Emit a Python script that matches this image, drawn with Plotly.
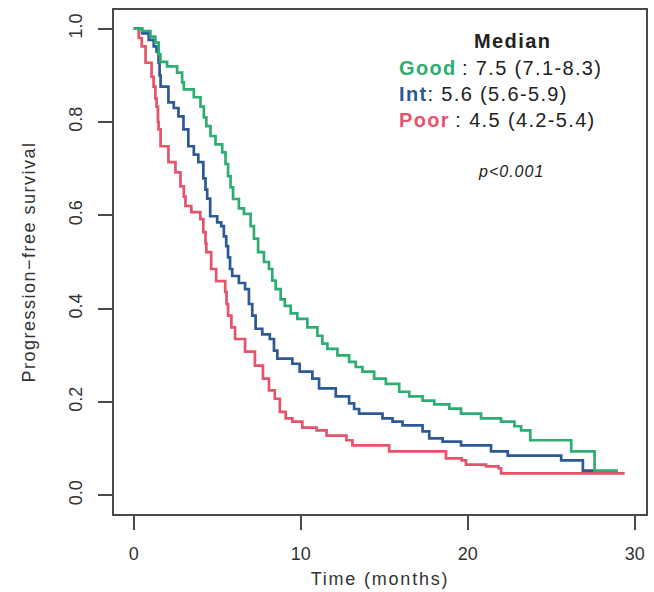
import plotly.graph_objects as go

# ---- data ----
good_t = [0, 0.5, 1.0, 1.3, 1.5, 1.6, 2.0, 2.6, 2.9, 3.0, 3.6, 4.0, 4.2, 4.35, 4.6, 4.9, 5.3, 5.5, 5.65, 5.8,
          5.95, 6.3, 6.6, 7.0, 7.2, 7.45, 7.8, 8.1, 8.3, 8.5, 8.8, 9.05, 9.4, 9.8, 10.4, 11.0, 11.3, 11.6, 12.2,
          12.9, 13.3, 13.7, 14.4, 15.1, 15.9, 16.5, 17.3, 18.0, 18.9, 19.6, 20.8, 22.0, 22.8, 23.2, 23.75, 26.2,
          27.6, 29.0]
good_s = [1.0, 0.995, 0.983, 0.970, 0.945, 0.929, 0.919, 0.906, 0.885, 0.870, 0.853, 0.833, 0.81, 0.791, 0.77,
          0.752, 0.735, 0.71, 0.684, 0.66, 0.635, 0.615, 0.603, 0.577, 0.55, 0.521, 0.50, 0.485, 0.46, 0.442, 0.42,
          0.406, 0.39, 0.378, 0.36, 0.342, 0.325, 0.314, 0.30, 0.286, 0.275, 0.265, 0.25, 0.239, 0.222, 0.212,
          0.203, 0.195, 0.186, 0.175, 0.165, 0.158, 0.148, 0.139, 0.118, 0.094, 0.053, 0.053]

int_t = [0, 0.5, 0.9, 1.2, 1.37, 1.49, 1.55, 1.61, 2.08, 2.4, 2.68, 2.98, 3.27, 3.6, 3.87, 4.17, 4.3, 4.4, 4.58,
         5.0, 5.24, 5.4, 5.54, 5.65, 5.77, 5.9, 6.3, 6.67, 6.9, 7.1, 7.3, 7.7, 8.15, 8.4, 8.6, 9.5, 9.94, 10.7,
         11.1, 12.1, 12.9, 13.2, 13.5, 14.9, 15.5, 16.1, 17.3, 17.7, 18.5, 19.6, 21.4, 22.4, 25.6, 26.9, 27.6]
int_s = [1.0, 0.99, 0.976, 0.962, 0.951, 0.927, 0.90, 0.876, 0.842, 0.83, 0.812, 0.784, 0.748, 0.73, 0.714, 0.679,
         0.655, 0.636, 0.598, 0.585, 0.577, 0.555, 0.534, 0.51, 0.485, 0.47, 0.455, 0.442, 0.41, 0.385, 0.357,
         0.345, 0.335, 0.31, 0.293, 0.282, 0.265, 0.250, 0.229, 0.212, 0.197, 0.185, 0.175, 0.165, 0.158, 0.150,
         0.137, 0.122, 0.115, 0.107, 0.094, 0.085, 0.075, 0.053, 0.053]

poor_t = [0, 0.3, 0.48, 0.71, 1.07, 1.19, 1.3, 1.37, 1.45, 1.49, 1.61, 2.08, 2.5, 2.8, 3.0, 3.1, 3.45, 3.99, 4.17,
          4.3, 4.35, 4.64, 4.94, 5.48, 5.56, 5.65, 5.85, 6.07, 6.67, 7.26, 7.74, 8.1, 8.45, 8.75, 9.1, 9.5, 10.1,
          10.95, 11.55, 12.74, 13.1, 15.3, 18.7, 19.64, 19.9, 21.1, 21.85, 22.0, 29.4]
poor_s = [1.0, 0.98, 0.962, 0.927, 0.897, 0.876, 0.85, 0.833, 0.80, 0.784, 0.748, 0.714, 0.692, 0.662, 0.64, 0.620,
          0.607, 0.592, 0.564, 0.54, 0.521, 0.485, 0.459, 0.436, 0.41, 0.385, 0.36, 0.335, 0.308, 0.278, 0.25,
          0.225, 0.207, 0.179, 0.165, 0.158, 0.145, 0.139, 0.128, 0.118, 0.107, 0.094, 0.079, 0.075, 0.066, 0.062,
          0.058, 0.047, 0.047]

x_ticks = [0, 10, 20, 30]
y_ticks = [0.0, 0.2, 0.4, 0.6, 0.8, 1.0]
y_tick_labels = ["0.0", "0.2", "0.4", "0.6", "0.8", "1.0"]

GREEN = "#2EAD72"
BLUE = "#2D5A96"
RED = "#E6536B"
AX = "#4a4a4a"
TXT = "#333333"
FONT = "Liberation Sans, Arial, sans-serif"


def spaced(text, ls):
    return f"<span style='letter-spacing:{ls}px'>{text}</span>"


fig = go.Figure()
for name, t, s, c in [("Poor", poor_t, poor_s, RED), ("Int", int_t, int_s, BLUE), ("Good", good_t, good_s, GREEN)]:
    fig.add_trace(go.Scatter(x=t, y=s, mode="lines", line=dict(color=c, width=2.7, shape="hv"),
                             name=name, showlegend=False))

fig.update_layout(
    width=654, height=592,
    margin=dict(l=114, r=6, t=10, b=76),
    paper_bgcolor="white", plot_bgcolor="white",
    font=dict(family=FONT, color=TXT, size=18),
    xaxis=dict(range=[-1.18, 30.68], tickvals=x_ticks, ticks="outside", ticklen=14, tickwidth=1.5,
               tickcolor=AX, showline=True, linecolor=AX, linewidth=1.5, mirror=True, showgrid=False,
               zeroline=False, tickfont=dict(size=18, color=TXT), ticklabelstandoff=9,
               title=dict(text=spaced("Time (months)", 1.8), font=dict(size=18, color=TXT), standoff=9)),
    yaxis=dict(range=[-0.04, 1.04], tickvals=y_ticks, ticktext=y_tick_labels, tickangle=-90,
               ticks="outside", ticklen=14, tickwidth=1.5,
               tickcolor=AX, showline=True, linecolor=AX, linewidth=1.5, mirror=True, showgrid=False,
               zeroline=False, tickfont=dict(size=18, color=TXT), ticklabelstandoff=9,
               title=dict(text=spaced("Progression\u2212free survival", 1.5), font=dict(size=18, color=TXT),
                          standoff=26)),
)


def px_x(p):
    return (p - 114) / 534


def px_y(p):
    return (516 - p) / 506


THIN = "\u2009"
ann = [
    ("<b>Median</b>", 514, 41, "center", 20, 1.4),
    (f"<b><span style='color:{GREEN}'>Good</span></b>{THIN}: 7.5 (7.1-8.3)", 398, 68, "left", 20, 1.35),
    (f"<b><span style='color:{BLUE}'>Int</span></b>: 5.6 (5.6-5.9)", 398, 94, "left", 20, 1.35),
    (f"<b><span style='color:{RED}'>Poor</span></b>{THIN}: 4.5 (4.2-5.4)", 398, 120, "left", 20, 1.35),
    ("<i>p&lt;0.001</i>", 512, 172, "center", 16, 1.0),
]
for text, x, y, anchor, size, ls in ann:
    fig.add_annotation(text=spaced(text, ls), x=px_x(x), y=px_y(y), xref="paper", yref="paper",
                       xanchor=anchor, yanchor="middle", showarrow=False,
                       font=dict(size=size, color="#222", family=FONT))

fig.write_html("out.html")
